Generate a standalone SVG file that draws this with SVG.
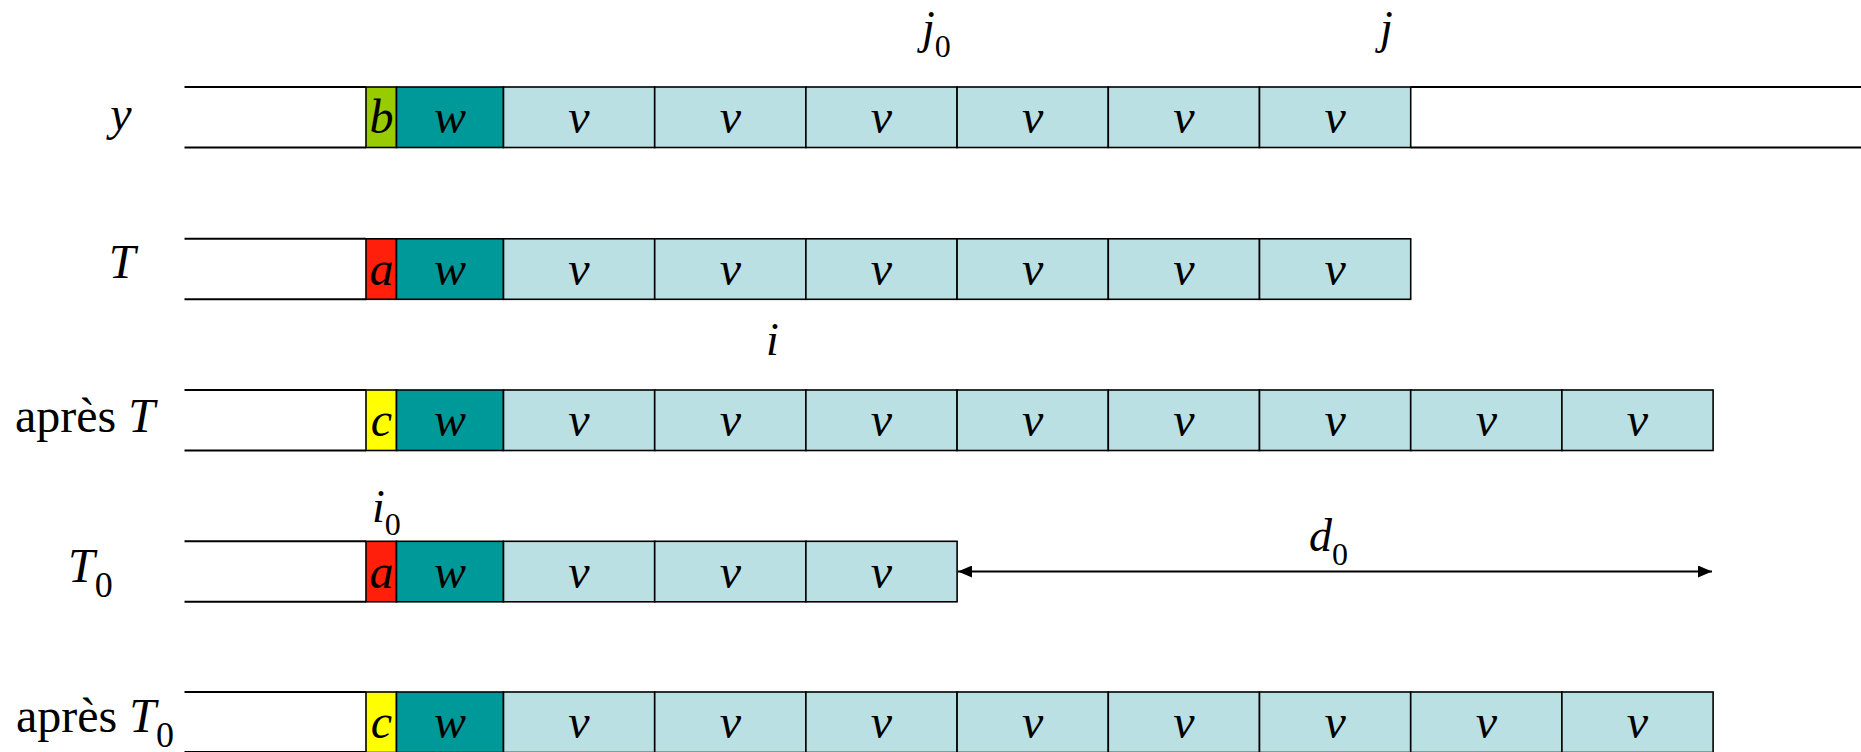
<svg xmlns="http://www.w3.org/2000/svg" width="1861" height="752" viewBox="0 0 1861 752" font-family="'Liberation Serif', 'Times New Roman', Times, serif">
<style>
  .ln{stroke:#000;stroke-width:2;fill:none}
  .cell{stroke:#000;stroke-width:1.6}
  .b{fill:#99CC00}
  .a{fill:#FF1F0A}
  .c{fill:#FFFF00}
  .w{fill:#009999}
  .v{fill:#BBE0E3}
  .t{font-family:'Liberation Serif', 'Times New Roman', Times, serif;fill:#000}
  .ct{font-size:48px;font-style:italic;text-anchor:middle}
  .lab{font-size:48px}
  .it{font-style:italic}
  .top{font-size:46px;font-style:italic}
  .sub{font-style:normal}
</style>
<defs>
  <marker id="ah" viewBox="0 0 14 12" refX="14" refY="6" markerWidth="14" markerHeight="12" markerUnits="userSpaceOnUse" orient="auto-start-reverse">
    <path d="M0,0 L14,6 L0,12 Z" fill="#000"/>
  </marker>
</defs>

<!-- row y -->
<g id="row-y">
  <text class="t lab it" x="121" y="130" text-anchor="middle">y</text>
  <line class="ln" x1="184.5" y1="87" x2="366" y2="87"/>
  <line class="ln" x1="184.5" y1="147.5" x2="366" y2="147.5"/>
  <line class="ln" x1="1410.7" y1="87" x2="1861" y2="87"/>
  <line class="ln" x1="1410.7" y1="147.5" x2="1861" y2="147.5"/>
  <rect class="cell b" x="366" y="87" width="30.5" height="60.5"/>
  <rect class="cell w" x="396.5" y="87" width="107" height="60.5"/>
  <rect class="cell v" x="503.5" y="87" width="151.2" height="60.5"/>
  <rect class="cell v" x="654.7" y="87" width="151.2" height="60.5"/>
  <rect class="cell v" x="805.9" y="87" width="151.2" height="60.5"/>
  <rect class="cell v" x="957.1" y="87" width="151.2" height="60.5"/>
  <rect class="cell v" x="1108.3" y="87" width="151.2" height="60.5"/>
  <rect class="cell v" x="1259.5" y="87" width="151.2" height="60.5"/>
  <text class="t ct" x="381.5" y="133">b</text>
  <text class="t ct" x="450" y="133">w</text>
  <text class="t ct" x="579" y="133">v</text>
  <text class="t ct" x="730.3" y="133">v</text>
  <text class="t ct" x="881.5" y="133">v</text>
  <text class="t ct" x="1032.7" y="133">v</text>
  <text class="t ct" x="1183.9" y="133">v</text>
  <text class="t ct" x="1335.1" y="133">v</text>
</g>

<!-- row T -->
<g id="row-T">
  <text class="t lab it" x="122" y="278" text-anchor="middle">T</text>
  <line class="ln" x1="184.5" y1="238.8" x2="366" y2="238.8"/>
  <line class="ln" x1="184.5" y1="299.3" x2="366" y2="299.3"/>
  <rect class="cell a" x="366" y="238.8" width="30.5" height="60.5"/>
  <rect class="cell w" x="396.5" y="238.8" width="107" height="60.5"/>
  <rect class="cell v" x="503.5" y="238.8" width="151.2" height="60.5"/>
  <rect class="cell v" x="654.7" y="238.8" width="151.2" height="60.5"/>
  <rect class="cell v" x="805.9" y="238.8" width="151.2" height="60.5"/>
  <rect class="cell v" x="957.1" y="238.8" width="151.2" height="60.5"/>
  <rect class="cell v" x="1108.3" y="238.8" width="151.2" height="60.5"/>
  <rect class="cell v" x="1259.5" y="238.8" width="151.2" height="60.5"/>
  <text class="t ct" x="381.5" y="285">a</text>
  <text class="t ct" x="450" y="285">w</text>
  <text class="t ct" x="579" y="285">v</text>
  <text class="t ct" x="730.3" y="285">v</text>
  <text class="t ct" x="881.5" y="285">v</text>
  <text class="t ct" x="1032.7" y="285">v</text>
  <text class="t ct" x="1183.9" y="285">v</text>
  <text class="t ct" x="1335.1" y="285">v</text>
</g>

<!-- row après T -->
<g id="row-apres-T">
  <text class="t lab" x="15" y="432">après <tspan class="it">T</tspan></text>
  <line class="ln" x1="184.5" y1="390" x2="366" y2="390"/>
  <line class="ln" x1="184.5" y1="450.5" x2="366" y2="450.5"/>
  <rect class="cell c" x="366" y="390" width="30.5" height="60.5"/>
  <rect class="cell w" x="396.5" y="390" width="107" height="60.5"/>
  <rect class="cell v" x="503.5" y="390" width="151.2" height="60.5"/>
  <rect class="cell v" x="654.7" y="390" width="151.2" height="60.5"/>
  <rect class="cell v" x="805.9" y="390" width="151.2" height="60.5"/>
  <rect class="cell v" x="957.1" y="390" width="151.2" height="60.5"/>
  <rect class="cell v" x="1108.3" y="390" width="151.2" height="60.5"/>
  <rect class="cell v" x="1259.5" y="390" width="151.2" height="60.5"/>
  <rect class="cell v" x="1410.7" y="390" width="151.2" height="60.5"/>
  <rect class="cell v" x="1561.9" y="390" width="151.2" height="60.5"/>
  <text class="t ct" x="381.5" y="436">c</text>
  <text class="t ct" x="450" y="436">w</text>
  <text class="t ct" x="579" y="436">v</text>
  <text class="t ct" x="730.3" y="436">v</text>
  <text class="t ct" x="881.5" y="436">v</text>
  <text class="t ct" x="1032.7" y="436">v</text>
  <text class="t ct" x="1183.9" y="436">v</text>
  <text class="t ct" x="1335.1" y="436">v</text>
  <text class="t ct" x="1486.3" y="436">v</text>
  <text class="t ct" x="1637.5" y="436">v</text>
</g>

<!-- row T0 -->
<g id="row-T0">
  <text class="t lab it" x="68" y="582">T<tspan class="sub" font-size="36" dy="15">0</tspan></text>
  <line class="ln" x1="184.5" y1="541.3" x2="366" y2="541.3"/>
  <line class="ln" x1="184.5" y1="601.8" x2="366" y2="601.8"/>
  <rect class="cell a" x="366" y="541.3" width="30.5" height="60.5"/>
  <rect class="cell w" x="396.5" y="541.3" width="107" height="60.5"/>
  <rect class="cell v" x="503.5" y="541.3" width="151.2" height="60.5"/>
  <rect class="cell v" x="654.7" y="541.3" width="151.2" height="60.5"/>
  <rect class="cell v" x="805.9" y="541.3" width="151.2" height="60.5"/>
  <text class="t ct" x="381.5" y="587.5">a</text>
  <text class="t ct" x="450" y="587.5">w</text>
  <text class="t ct" x="579" y="587.5">v</text>
  <text class="t ct" x="730.3" y="587.5">v</text>
  <text class="t ct" x="881.5" y="587.5">v</text>
</g>

<!-- row après T0 -->
<g id="row-apres-T0">
  <text class="t lab" x="16" y="732">après <tspan class="it">T</tspan><tspan class="sub" font-size="36" dy="15">0</tspan></text>
  <line class="ln" x1="184.5" y1="692" x2="366" y2="692"/>
  <line class="ln" x1="184.5" y1="752" x2="366" y2="752"/>
  <rect class="cell c" x="366" y="692" width="30.5" height="60.5"/>
  <rect class="cell w" x="396.5" y="692" width="107" height="60.5"/>
  <rect class="cell v" x="503.5" y="692" width="151.2" height="60.5"/>
  <rect class="cell v" x="654.7" y="692" width="151.2" height="60.5"/>
  <rect class="cell v" x="805.9" y="692" width="151.2" height="60.5"/>
  <rect class="cell v" x="957.1" y="692" width="151.2" height="60.5"/>
  <rect class="cell v" x="1108.3" y="692" width="151.2" height="60.5"/>
  <rect class="cell v" x="1259.5" y="692" width="151.2" height="60.5"/>
  <rect class="cell v" x="1410.7" y="692" width="151.2" height="60.5"/>
  <rect class="cell v" x="1561.9" y="692" width="151.2" height="60.5"/>
  <text class="t ct" x="381.5" y="738">c</text>
  <text class="t ct" x="450" y="738">w</text>
  <text class="t ct" x="579" y="738">v</text>
  <text class="t ct" x="730.3" y="738">v</text>
  <text class="t ct" x="881.5" y="738">v</text>
  <text class="t ct" x="1032.7" y="738">v</text>
  <text class="t ct" x="1183.9" y="738">v</text>
  <text class="t ct" x="1335.1" y="738">v</text>
  <text class="t ct" x="1486.3" y="738">v</text>
  <text class="t ct" x="1637.5" y="738">v</text>
</g>

<!-- index labels -->
<g id="label-j0"><text class="t top" x="922" y="43">j<tspan class="sub" font-size="32" dy="14">0</tspan></text></g>
<g id="label-j"><text class="t top" x="1380" y="43">j</text></g>
<g id="label-i"><text class="t top" x="766" y="355">i</text></g>
<g id="label-i0"><text class="t top" x="372" y="522">i<tspan class="sub" font-size="32" dy="13">0</tspan></text></g>

<!-- connectors -->
<g id="connectors">
  <line class="ln" x1="958" y1="571.5" x2="1712" y2="571.5" marker-start="url(#ah)" marker-end="url(#ah)"/>
  <text class="t top" x="1309" y="551">d<tspan class="sub" font-size="32" dy="14">0</tspan></text>
</g>
</svg>
